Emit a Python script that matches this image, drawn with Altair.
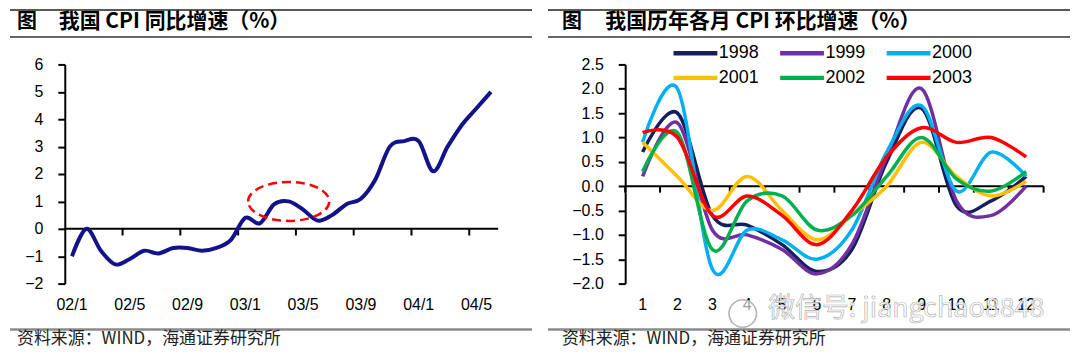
import altair as alt
import pandas as pd

# ---------------- data ----------------
yoy_labels = ["02/1", "02/2", "02/3", "02/4", "02/5", "02/6", "02/7", "02/8", "02/9", "02/10", "02/11", "02/12",
              "03/1", "03/2", "03/3", "03/4", "03/5", "03/6", "03/7", "03/8", "03/9", "03/10", "03/11", "03/12",
              "04/1", "04/2", "04/3", "04/4", "04/5", "04/6"]
yoy_values = [-1.0, 0.0, -0.8, -1.3, -1.1, -0.8, -0.9, -0.7, -0.7, -0.8, -0.7, -0.4,
              0.4, 0.2, 0.9, 1.0, 0.7, 0.3, 0.5, 0.9, 1.1, 1.8, 3.0, 3.2,
              3.2, 2.1, 3.0, 3.8, 4.4, 5.0]
yoy_tick_labels = ["02/1", "02/5", "02/9", "03/1", "03/5", "03/9", "04/1", "04/5"]
yoy_y_ticks = [-2, -1, 0, 1, 2, 3, 4, 5, 6]
highlight_month = "03/4"
highlight_value = 1.0

months = [1, 2, 3, 4, 5, 6, 7, 8, 9, 10, 11, 12]
years = ["1998", "1999", "2000", "2001", "2002", "2003"]
mom_1998 = [0.7, 1.5, -0.6, -0.8, -1.2, -1.75, -1.3, 0.5, 1.6, -0.4, -0.3, 0.2]
mom_1999 = [0.2, 1.3, -0.9, -1.0, -1.3, -1.8, -1.2, 0.6, 2.0, -0.3, -0.6, 0.0]
mom_2000 = [0.9, 2.0, -1.7, -0.9, -1.1, -1.5, -0.9, 0.7, 1.65, -0.1, 0.7, 0.2]
mom_2001 = [0.9, 0.2, -0.5, 0.2, -0.5, -1.1, -0.6, 0.0, 0.9, 0.2, -0.2, 0.1]
mom_2002 = [0.3, 1.1, -1.3, -0.3, -0.2, -0.9, -0.6, 0.2, 1.0, 0.15, -0.1, 0.3]
mom_2003 = [1.1, 1.0, -0.6, -0.2, -0.6, -1.2, -0.5, 0.6, 1.2, 0.9, 1.0, 0.6]
mom_y_ticks = [-2.0, -1.5, -1.0, -0.5, 0.0, 0.5, 1.0, 1.5, 2.0, 2.5]
year_colors = ["#14205e", "#7030a0", "#00b0f0", "#ffc000", "#00b050", "#ff0000"]

left_title = "我国 CPI 同比增速（%）"
right_title = "我国历年各月 CPI 环比增速（%）"
fig_label = "图"
source_text = "资料来源：WIND，海通证券研究所"
watermark = "微信号: jiangchao8848"

# ---------------- tables ----------------
df_yoy = pd.DataFrame({"month": yoy_labels, "v": yoy_values})
df_ticks_l = pd.DataFrame({"month": yoy_tick_labels[1:]})
df_hl = pd.DataFrame({"month": [highlight_month], "v": [highlight_value]})
mom_series = [mom_1998, mom_1999, mom_2000, mom_2001, mom_2002, mom_2003]
df_mom = pd.DataFrame([
    {"year": y, "month": m, "v": v}
    for y, s in zip(years, mom_series) for m, v in zip(months, s)
])
df_ticks_r = pd.DataFrame({"month": months})
one = pd.DataFrame({"a": [0]})

LBL_FONT = "Liberation Sans"
CJK = "Noto Sans CJK SC"
H = 220
WL = 435
WR = 420
TOP = -55.5


def y_axis(values, fmt=None):
    kw = dict(values=values, title=None, grid=False, domainColor="#000", domainWidth=2,
              tickColor="#000", tickWidth=2, tickSize=7, labelPadding=15, labelOverlap=False,
              labelFontSize=16, labelFont=LBL_FONT, labelColor="#000")
    if fmt:
        kw["format"] = fmt
    return alt.Axis(**kw)


def decorations(x_left, x_right, title_x, fig_x, title):
    rule_top = alt.Chart(one).mark_rect(color="#222", opacity=1).encode(
        x=alt.value(x_left), x2=alt.value(x_right), y=alt.value(TOP), y2=alt.value(TOP + 1.6))
    rule_title = alt.Chart(one).mark_rule(color="#333", strokeWidth=1.5).encode(
        x=alt.value(x_left), x2=alt.value(x_right), y=alt.value(-27.5))
    rule_bottom = alt.Chart(one).mark_rule(color="#8a8a8a", strokeWidth=2.5).encode(
        x=alt.value(x_left), x2=alt.value(x_right), y=alt.value(266))
    t_fig = alt.Chart(one).mark_text(text=fig_label, align="left", baseline="middle", font=CJK,
                                     fontSize=20, fontWeight="bold", color="#000").encode(
        x=alt.value(fig_x), y=alt.value(-42.5))
    t_title = alt.Chart(one).mark_text(text=title, align="left", baseline="middle", font=CJK,
                                       fontSize=21, fontWeight="bold", color="#000").encode(
        x=alt.value(title_x), y=alt.value(-42.5))
    t_src = alt.Chart(one).mark_text(text=source_text, align="left", baseline="middle", font=CJK,
                                     fontSize=17, color="#222").encode(
        x=alt.value(fig_x), y=alt.value(275.5))
    return [rule_top, rule_title, rule_bottom, t_fig, t_title, t_src]


# ---------------- left chart ----------------
xl_scale = alt.Scale(type="band", domain=yoy_labels, paddingInner=0, paddingOuter=0)
xl_axis = alt.Axis(values=yoy_tick_labels, title=None, domain=False, ticks=False, tickSize=0,
                   labelAngle=0, labelPadding=13, labelFontSize=16, labelFont=LBL_FONT, labelColor="#000")
yl_scale = alt.Scale(domain=[-2, 6], nice=False, zero=False)
yl_axis = y_axis(yoy_y_ticks)
yl = alt.Y("v:Q", scale=yl_scale, axis=yl_axis)
yl0 = alt.YDatum(0, scale=yl_scale, axis=yl_axis)

zero_l = alt.Chart(one).mark_rule(color="#000", strokeWidth=2).encode(y=yl0)
ticks_l = alt.Chart(df_ticks_l).mark_rule(color="#000", strokeWidth=2).encode(
    x=alt.X("month:O", scale=xl_scale, bandPosition=0, axis=xl_axis),
    y=yl0, y2=alt.value(H * 6 / 8 + 6.7))
line_l = alt.Chart(df_yoy).mark_line(interpolate="cardinal", color="#12128a", strokeWidth=4).encode(
    x=alt.X("month:O", scale=xl_scale, bandPosition=0.5, axis=xl_axis), y=yl)
ellipse = alt.Chart(df_hl).mark_point(
    shape="M-1,0A1,0.48,0,1,1,1,0A1,0.48,0,1,1,-1,0Z", size=6642, filled=False,
    color="#ff0000", strokeWidth=2.5, strokeDash=[9, 5], opacity=1).encode(
    x=alt.X("month:O", scale=xl_scale, bandPosition=0.5, axis=xl_axis), y=yl)

left = alt.layer(zero_l, ticks_l, line_l, ellipse,
                 *decorations(-55, 469, -6, -48, left_title)).properties(width=WL, height=H)

# ---------------- right chart ----------------
xr_scale = alt.Scale(type="band", domain=months, paddingInner=0, paddingOuter=0)
xr_axis = alt.Axis(title=None, domain=False, ticks=False, tickSize=0, labelAngle=0, labelPadding=13,
                   labelFontSize=16, labelFont=LBL_FONT, labelColor="#000")
yr_scale = alt.Scale(domain=[-2, 2.5], nice=False, zero=False)
yr_axis = y_axis(mom_y_ticks, ".1f")
yr = alt.Y("v:Q", scale=yr_scale, axis=yr_axis)
yr0 = alt.YDatum(0, scale=yr_scale, axis=yr_axis)
zero_r_px = H * 2.5 / 4.5

zero_r = alt.Chart(one).mark_rule(color="#000", strokeWidth=2).encode(y=yr0)
ticks_r = alt.Chart(df_ticks_r).mark_rule(color="#000", strokeWidth=2).encode(
    x=alt.X("month:O", scale=xr_scale, bandPosition=0, axis=xr_axis),
    y=yr0, y2=alt.value(zero_r_px + 6.5))
ticks_r_end = alt.Chart(pd.DataFrame({"month": [months[-1]]})).mark_rule(color="#000", strokeWidth=2).encode(
    x=alt.X("month:O", scale=xr_scale, bandPosition=1, axis=xr_axis),
    y=yr0, y2=alt.value(zero_r_px + 6.5))
lines_r = alt.Chart(df_mom).mark_line(interpolate="cardinal", strokeWidth=3.5).encode(
    x=alt.X("month:O", scale=xr_scale, bandPosition=0.5, axis=xr_axis), y=yr,
    color=alt.Color("year:N", scale=alt.Scale(domain=years, range=year_colors),
                    legend=alt.Legend(orient="none", legendX=57, legendY=-25, direction="horizontal",
                                      columns=3, title=None, symbolType="M-2,0H2", symbolSize=484,
                                      symbolStrokeWidth=4.5, labelFontSize=18, labelFont=LBL_FONT,
                                      labelColor="#000", labelOffset=10, columnPadding=11,
                                      rowPadding=2, padding=0)))
wm_logo = alt.Chart(one).mark_point(shape="circle", size=760, filled=True, fill="#ffffff",
                                    fillOpacity=0.6, stroke="#b4b4b4", strokeWidth=1.6,
                                    opacity=1).encode(x=alt.value(118), y=alt.value(250))
wm = alt.Chart(one).mark_text(text=watermark, align="left", baseline="middle", font=CJK, fontSize=27,
                              fill="#ffffff", fillOpacity=0.85, stroke="#a8a8a8", strokeWidth=0.7,
                              strokeOpacity=0.9).encode(x=alt.value(143.5), y=alt.value(245.5))

right = alt.layer(zero_r, ticks_r, ticks_r_end, lines_r, wm_logo, wm,
                  *decorations(-77.5, 446.5, -20, -63.5, right_title)).properties(width=WR, height=H)

chart = alt.hconcat(left, right, spacing=127.5, bounds="flush").resolve_legend(
    color="independent").resolve_scale(color="independent").properties(
    padding=0, background="#ffffff").configure_view(stroke=None)

chart.save("out.html", embed_options={"renderer": "svg", "actions": False})
